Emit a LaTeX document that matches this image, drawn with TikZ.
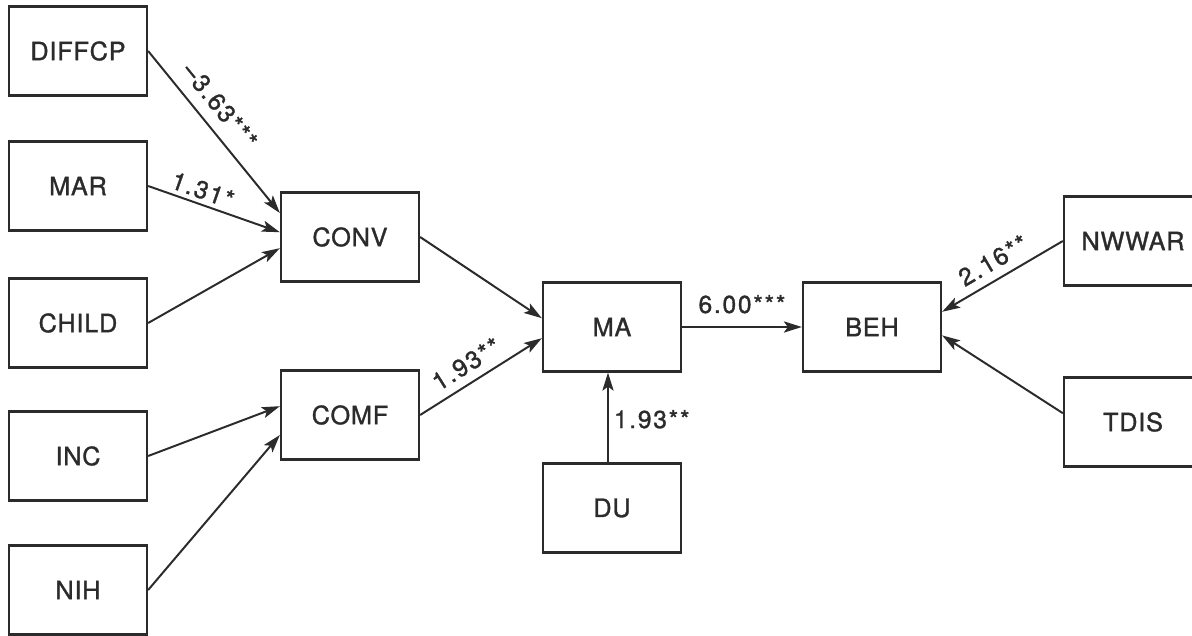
\documentclass[tikz,border=0pt]{standalone}
\usepackage{fontspec}
\setmainfont[LetterSpace=3,FakeBold=1.2]{TeX Gyre Heros}
\newfontfamily\coeffont[LetterSpace=7,FakeBold=1.2]{TeX Gyre Heros}
\usepackage{tikz}
\usetikzlibrary{arrows.meta}
\definecolor{pathink}{HTML}{2B2B2B}

\begin{document}
\begin{tikzpicture}[
  x=0.025cm,
  y=-0.025cm,
  var/.style={draw=pathink, line width=1.6pt, minimum width=3.45cm, minimum height=2.225cm,
    inner sep=0pt, text=pathink, font=\fontsize{18}{21}\selectfont},
  coef/.style={text=pathink, inner sep=2pt, font=\coeffont\fontsize{17.5}{20}\selectfont},
  arrow/.style={-{Stealth[length=4.5mm,width=2.8mm,inset=1mm]}, line width=1.4pt, draw=pathink}
]
\useasboundingbox (0,0) rectangle (1192,636);

\node[var] (DIFFCP) at (78,51) {DIFFCP};
\node[var] (MAR) at (78,186) {MAR};
\node[var] (CHILD) at (78,323) {CHILD};
\node[var] (INC) at (78,456) {INC};
\node[var] (NIH) at (78,590) {NIH};

\node[var] (CONV) at (350,237) {CONV};
\node[var] (COMF) at (350,415) {COMF};

\node[var] (MA) at (612,327) {MA};
\node[var] (DU) at (612,508) {DU};
\node[var] (BEH) at (872,327) {BEH};

\node[var] (NWWAR) at (1133,241) {NWWAR};
\node[var] (TDIS) at (1133,422) {TDIS};

\draw[arrow] (DIFFCP.east) -- node[coef, sloped, above=6pt, pos=0.42] {–3.63***} ([yshift=0.6cm]CONV.west);
\draw[arrow] (MAR.east) -- node[coef, sloped, above=1pt, pos=0.38] {1.31*} ([yshift=0.12cm]CONV.west);
\draw[arrow] (CHILD.east) -- ([yshift=-0.28cm]CONV.west);
\draw[arrow] (INC.east) -- ([yshift=0.22cm]COMF.west);
\draw[arrow] (NIH.east) -- ([yshift=-0.5cm]COMF.west);
\draw[arrow] (CONV.east) -- ([yshift=0.22cm]MA.west);
\draw[arrow] (COMF.east) -- node[coef, sloped, above=4pt, pos=0.46] {1.93**} ([yshift=-0.28cm]MA.west);
\draw[arrow] ([xshift=-0.1cm]DU.north) -- node[coef, right=1.5pt, pos=0.48] {1.93**} ([xshift=-0.1cm]MA.south);
\draw[arrow] (MA.east) -- node[coef, above=7pt] {6.00***} (BEH.west);
\draw[arrow] (NWWAR.west) -- node[coef, sloped, above=4pt, pos=0.5] {2.16**} ([yshift=0.38cm]BEH.east);
\draw[arrow] ([yshift=0.22cm]TDIS.west) -- ([yshift=-0.21cm]BEH.east);
\end{tikzpicture}
\end{document}
